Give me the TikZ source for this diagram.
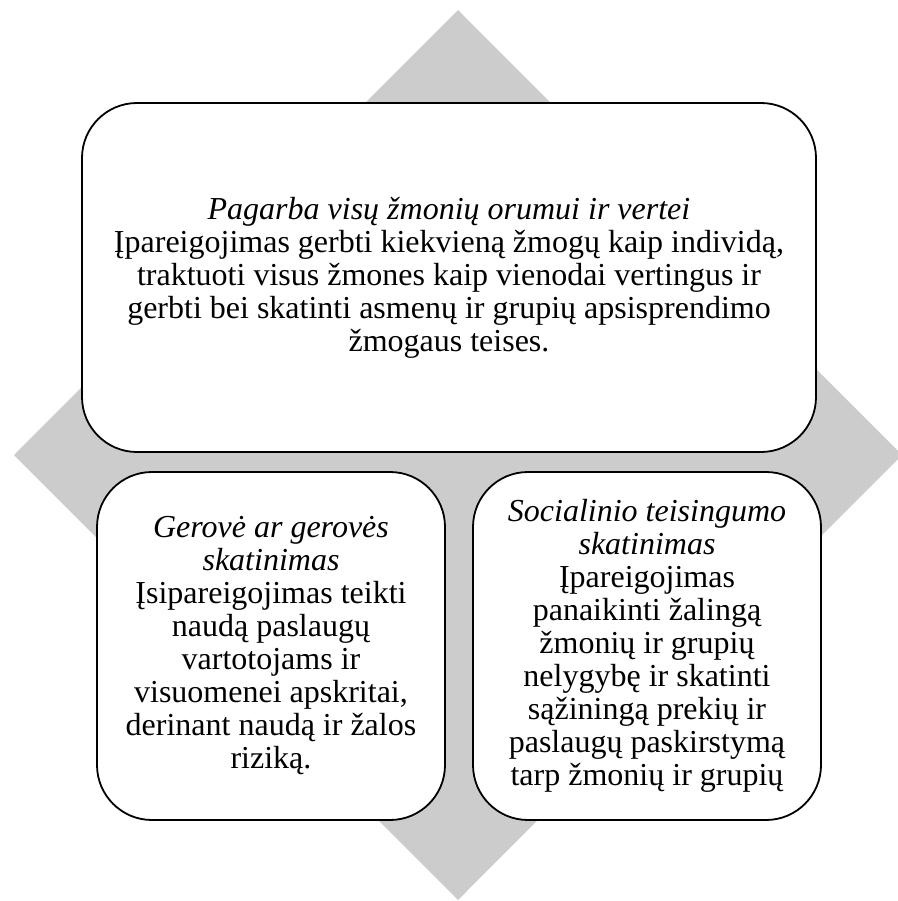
\documentclass[tikz,border=0pt]{standalone}
\usepackage{fontspec}
\setmainfont{Liberation Serif}
\usetikzlibrary{calc}

\begin{document}
\begin{tikzpicture}[x=1pt,y=-1pt,
    valuebox/.style={draw=black,line width=1.8pt,fill=white,rounded corners=55pt,
        align=center,inner sep=0pt,font=\fontsize{32}{33}\selectfont},
    wide/.style={minimum width=734pt,minimum height=349pt},
    narrow/.style={minimum width=348pt,minimum height=348pt}]
        \useasboundingbox (0,0) rectangle (897,901);
        \def\cx{458} \def\cy{455}
        \def\rx{444} \def\ry{445}

        % grey diamond behind the boxes
        \coordinate (top) at (\cx,\cy-\ry);
        \coordinate (right) at (\cx+\rx,\cy);
        \coordinate (bottom) at (\cx,\cy+\ry);
        \coordinate (left) at (\cx-\rx,\cy);
        \fill[gray!40] (top)--(right)--(bottom)--(left)--cycle;

        \node[valuebox,wide] (respect) at (449,277.5)
        {\textit{Pagarba visų žmonių orumui ir vertei}\\
         Įpareigojimas gerbti kiekvieną žmogų kaip individą,\\
         traktuoti visus žmones kaip vienodai vertingus ir\\
         gerbti bei skatinti asmenų ir grupių apsisprendimo\\
         žmogaus teises.};

        \node[valuebox,narrow] (welfare) at (271,646)
        {\textit{Gerovė ar gerovės}\\
         \textit{skatinimas}\\
         Įsipareigojimas teikti\\
         naudą paslaugų\\
         vartotojams ir\\
         visuomenei apskritai,\\
         derinant naudą ir žalos\\
         riziką.};

        \node[valuebox,narrow] (justice) at (647,646)
        {\textit{Socialinio teisingumo}\\
         \textit{skatinimas}\\
         Įpareigojimas\\
         panaikinti žalingą\\
         žmonių ir grupių\\
         nelygybę ir skatinti\\
         sąžiningą prekių ir\\
         paslaugų paskirstymą\\
         tarp žmonių ir grupių};
    \end{tikzpicture}
\end{document}
